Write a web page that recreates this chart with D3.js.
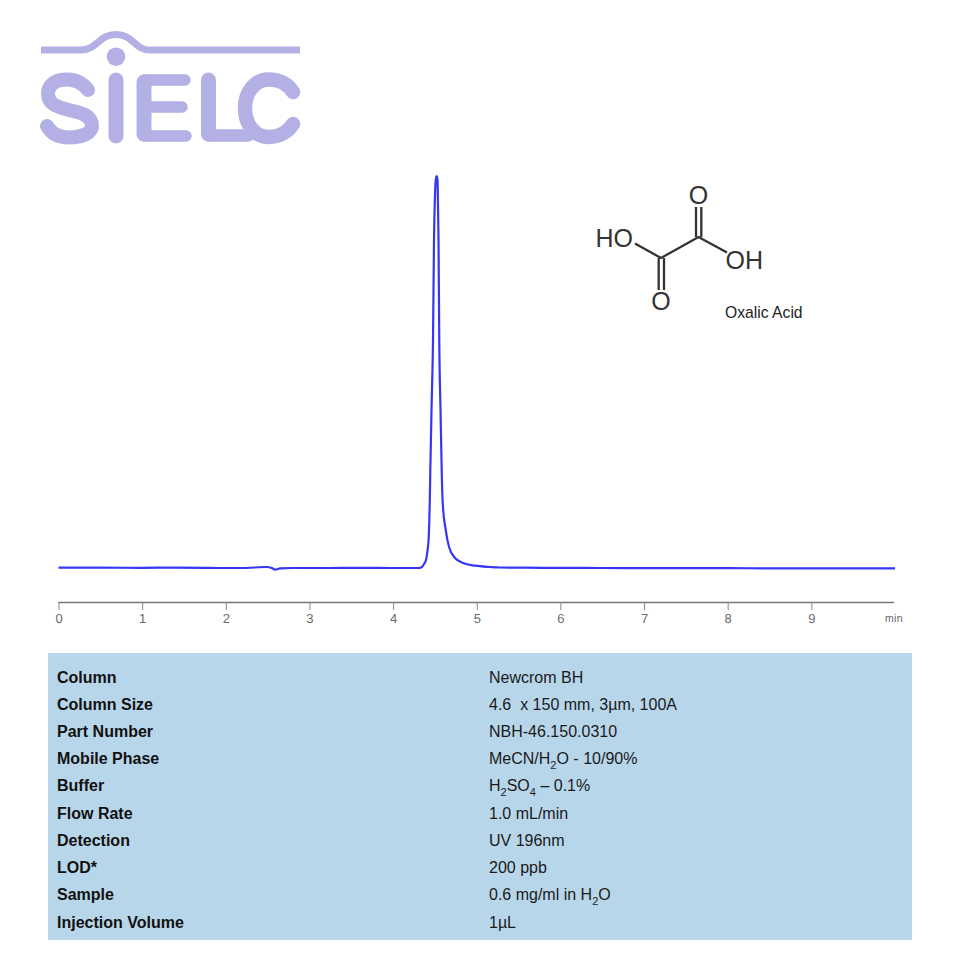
<!DOCTYPE html>
<html>
<head>
<meta charset="utf-8">
<script src="https://cdn.jsdelivr.net/npm/d3@7/dist/d3.min.js"></script>
<style>
html,body{margin:0;padding:0;background:#fff}
svg{display:block}
text{font-family:"Liberation Sans",Arial,sans-serif}
</style>
</head>
<body>
<div id="chart"></div>
<script>
// Retention time (min) and detector signal (% of peak height)
const times = [0,0.5,1,1.4,1.75,1.9,2.2,2.49,2.55,2.59,2.65,2.8,3.2,3.6,4,4.25,4.298,4.322,4.346,4.37,4.393,4.411,4.426,4.438,4.445,4.46,4.477,4.489,4.501,4.513,4.521,4.531,4.537,4.543,4.552,4.567,4.581,4.593,4.629,4.668,4.74,4.836,4.979,5.158,5.278,5.6,6,6.5,7,7.5,8,8.5,9,9.5,10];
const signal = [0.1,0.08,0.05,0.1,0.05,0,0,0.25,0,-0.4,-0.1,0,0,0.02,0,0,0,0.05,0.33,1.02,2.04,4.34,7.9,16.6,25,41.1,58,83.7,95.2,99.5,100,99,91.8,83.7,58,40.3,25,16.6,9.7,5.4,2.55,1.28,0.59,0.26,0.13,0.08,0.02,0,-0.02,-0.02,-0.05,-0.08,-0.1,-0.1,-0.1];
const tickValues = [0,1,2,3,4,5,6,7,8,9];
const axisUnit = "min";
const compoundName = "Oxalic Acid";
const rowLabels = ["Column","Column Size","Part Number","Mobile Phase","Buffer","Flow Rate","Detection","LOD*","Sample","Injection Volume"];
const rowValues = ["Newcrom BH","4.6  x 150 mm, 3µm, 100A","NBH-46.150.0310","MeCN/H_2_O - 10/90%","H_2_SO_4_ – 0.1%","1.0 mL/min","UV 196nm","200 ppb","0.6 mg/ml in H_2_O","1µL"];

const svg = d3.select("#chart").append("svg").attr("width",960).attr("height",960);
svg.append("defs").append("filter").attr("id","soft").append("feGaussianBlur").attr("stdDeviation",0.6);

// ---------- logo ----------
const logo = svg.append("g").attr("fill","none").attr("stroke","#b3b0e6").attr("stroke-linecap","round").attr("stroke-linejoin","round").attr("aria-label","SIELC").attr("filter","url(#soft)");
logo.append("path").attr("stroke-width",7).attr("stroke-linecap","butt")
  .attr("d","M41 50 L80 50 C98 50 98 34.5 116 34.5 C134 34.5 134 50 150 50 L300 50");
logo.append("circle").attr("cx",116).attr("cy",56.7).attr("r",9.3).attr("fill","#b3b0e6").attr("stroke","none");
logo.append("path").attr("stroke-width",14)
  .attr("d","M88 90 C82 82 75 79.5 67 79.5 C55 79.5 48 85 48 94 C48 104 57 107 69 110 C83 113 92 116 92 126 C92 133 82 137.5 69 137.5 C58 137.5 51 133 47 126");
logo.append("path").attr("stroke-width",15).attr("d","M116 80 L116 136");
logo.append("path").attr("stroke-width",15).attr("d","M144 82 L144 134");
logo.append("path").attr("stroke-width",11.5).attr("d","M144 80 L185 80 M144 107 L182 107 M144 136 L186 136");
logo.append("path").attr("stroke-width",15).attr("d","M208.5 80 L208.5 134");
logo.append("path").attr("stroke-width",12.5).attr("d","M208.5 135.5 L248 135.5");
logo.append("path").attr("stroke-width",14.5)
  .attr("d","M293 92 C288 84 279 79.5 269 79.5 C255 79.5 245 92 245 108 C245 125 255 137 269 137 C279 137 288 132 293 124");

// ---------- chromatogram ----------
const x = d3.scaleLinear().domain([0,10]).range([58.5,895]);
const y = d3.scaleLinear().domain([0,100]).range([568,176]);

const axis = d3.axisBottom(x).tickValues(tickValues).tickFormat(d3.format("d")).tickSize(8).tickPadding(3.5);
const axisG = svg.append("g").attr("transform","translate(0,602)").call(axis);
axisG.select(".domain").attr("stroke","#777").attr("stroke-width",1.3).attr("d","M58.5 0.5 H894");
axisG.selectAll(".tick line").attr("stroke","#888").attr("stroke-width",1);
axisG.selectAll(".tick text").attr("fill","#6a6a6a").attr("font-size",13).attr("font-family",'"Liberation Sans",Arial,sans-serif').style("text-rendering","geometricPrecision");
svg.append("text").attr("x",885).attr("y",622).attr("font-size",10.5).attr("fill","#666").attr("letter-spacing",0.3).text(axisUnit);

const line = d3.line().x((d,i)=>x(times[i])).y(d=>y(d)).curve(d3.curveMonotoneX);
svg.append("path").datum(signal).attr("d",line).attr("fill","none").attr("stroke","#3636f5").attr("stroke-width",2.2);

// ---------- structure ----------
const mol = svg.append("g").attr("stroke","#333").attr("stroke-width",2.3).attr("fill","none");
mol.append("path").attr("d","M635 243.5 L661 258 L698.5 237 L727 252.5");
mol.append("path").attr("d","M658.7 258 L658.7 290 M664 258 L664 290");
mol.append("path").attr("d","M696 237 L696 207 M701.3 237 L701.3 207");
const molText = svg.append("g").attr("fill","#333").attr("font-size",25);
molText.append("text").attr("x",595.5).attr("y",247).text("HO");
molText.append("text").attr("x",725.5).attr("y",268.5).text("OH");
molText.append("text").attr("x",698.5).attr("y",203.5).attr("text-anchor","middle").text("O");
molText.append("text").attr("x",661).attr("y",310).attr("text-anchor","middle").text("O");
svg.append("text").attr("x",725).attr("y",317.5).attr("font-size",15.7).attr("fill","#222").text(compoundName);

// ---------- table ----------
svg.append("rect").attr("x",48).attr("y",653).attr("width",864).attr("height",287).attr("fill","#b8d6ea");
const rowY = d3.scalePoint().domain(rowLabels).range([682.5,927.7]);

svg.append("g").selectAll("text").data(rowLabels).join("text")
  .attr("x",57).attr("y",d=>rowY(d)).attr("font-size",16).attr("font-weight","bold").attr("fill","#111").text(d=>d);

const valueG = svg.append("g").attr("fill","#1a1a1a").attr("font-size",16);
rowValues.forEach((v,i)=>{
  const t = valueG.append("text").attr("x",489).attr("y",rowY(rowLabels[i])).attr("xml:space","preserve").style("white-space","pre");
  v.split("_").forEach((part,j)=>{
    if(!part) return;
    t.append("tspan").attr("y",rowY(rowLabels[i])+(j%2?4.5:0)).attr("font-size",j%2?11:16).text(part);
  });
});
</script>
</body>
</html>
